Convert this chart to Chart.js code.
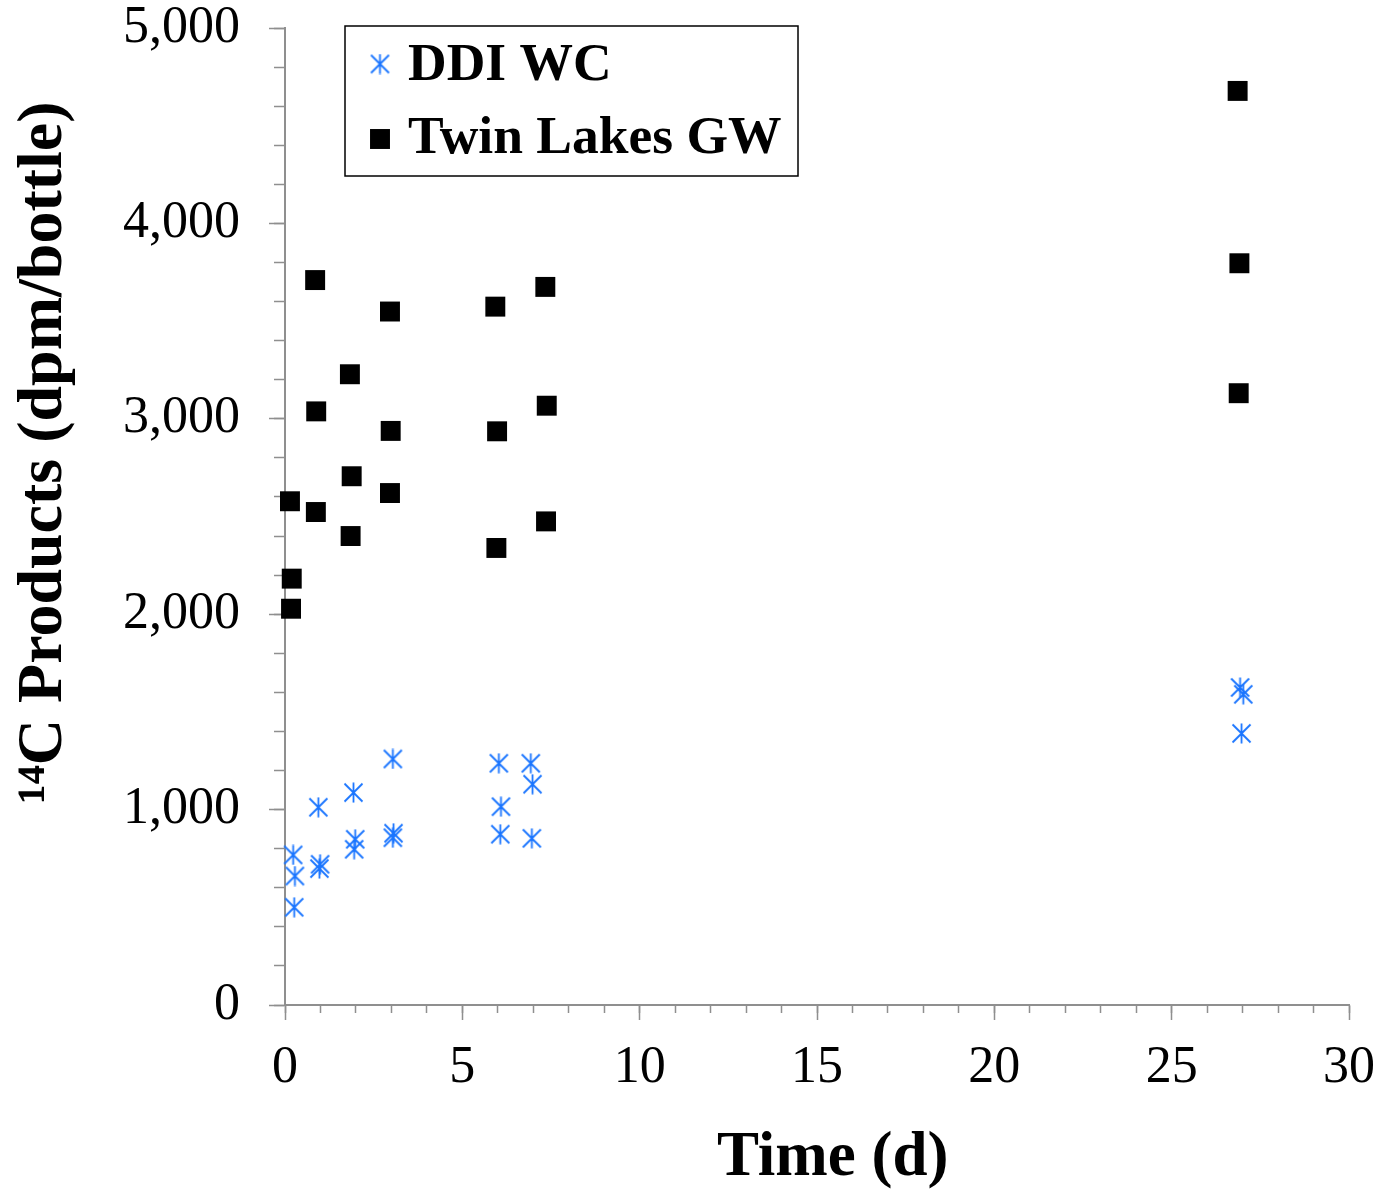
<!DOCTYPE html>
<html>
<head>
<meta charset="utf-8">
<script src="https://cdn.jsdelivr.net/npm/chart.js@4.4.1/dist/chart.umd.min.js"></script>
<style>
html, body { margin: 0; padding: 0; background: #ffffff; }
canvas { display: block; }
</style>
</head>
<body>
<canvas id="chart" width="1398" height="1191"></canvas>
<script>
// ---- data ----
const seriesNames = ['DDI WC', 'Twin Lakes GW'];

const ddiDays   = [0.23, 0.28, 0.26, 0.94, 0.99, 0.97, 1.93, 1.98, 1.95, 3.04, 3.06, 3.04, 6.03, 6.09, 6.07, 6.93, 6.98, 6.96, 26.93, 27.02, 26.97];
const ddiValues = [768, 660, 500, 1012, 720, 698, 1087, 848, 797, 1259, 879, 856, 1237, 1015, 874, 1237, 1130, 853, 1625, 1590, 1390];

const twinDays   = [0.85, 2.96, 5.93, 7.34, 1.83, 0.88, 2.98, 5.98, 7.38, 1.88, 2.96, 0.14, 0.87, 1.85, 5.96, 7.36, 0.19, 0.17, 26.86, 26.91, 26.89];
const twinValues = [3710, 3549, 3574, 3675, 3228, 3038, 2938, 2936, 3067, 2706, 2620, 2578, 2523, 2400, 2339, 2475, 2182, 2028, 4678, 3796, 3131];

const xMin = 0, xMax = 30, xMajorStep = 5, xMinorStep = 1;
const yMin = 0, yMax = 5000, yMajorStep = 1000, yMinorStep = 200;

const xTitle = '\u2002Time (d)';
const yTitle = '\u2003\u2003\u00B9\u2074C Products (dpm/bottle)';

// ---- styling ----
const FONT = '"Liberation Serif", "Times New Roman", Times, serif';
const AXIS_GRAY = '#8f8f8f';
const BLUE = '#1a75ff';

function makeAsterisk() {
  const s = 21;
  const c = document.createElement('canvas');
  c.width = s; c.height = s;
  const g = c.getContext('2d');
  g.strokeStyle = BLUE;
  g.lineWidth = 1.8;
  g.beginPath();
  g.moveTo(1.5, 1.5); g.lineTo(s - 1.5, s - 1.5);
  g.moveTo(s - 1.5, 1.5); g.lineTo(1.5, s - 1.5);
  g.moveTo(s / 2, 0.5); g.lineTo(s / 2, s - 0.5);
  g.stroke();
  return c;
}
const asterisk = makeAsterisk();

const toPoints = (xs, ys) => xs.map((x, i) => ({ x: x, y: ys[i] }));

const boxLegend = {
  id: 'boxLegend',
  afterDatasetsDraw(chart) {
    const ctx = chart.ctx;
    ctx.save();
    ctx.fillStyle = '#ffffff';
    ctx.fillRect(345, 26, 453, 150);
    ctx.lineWidth = 1.5;
    ctx.strokeStyle = '#000000';
    ctx.strokeRect(345, 26, 453, 150);
    chart.data.datasets.forEach((ds, i) => {
      const cy = 64 + i * 75;
      ctx.fillStyle = ds.pointBackgroundColor;
      ctx.strokeStyle = ds.pointBorderColor;
      Chart.helpers.drawPoint(ctx, {
        pointStyle: ds.pointStyle,
        radius: ds.pointRadius,
        borderWidth: ds.pointBorderWidth,
        rotation: 0
      }, 380, cy);
      ctx.fillStyle = '#000000';
      ctx.font = 'bold 53.5px ' + FONT;
      ctx.textAlign = 'left';
      ctx.textBaseline = 'alphabetic';
      ctx.fillText(ds.label, 408, 80 + i * 73);
    });
    ctx.restore();
  }
};

function noScalePadding(s) {
  s.paddingTop = 0; s.paddingBottom = 0; s.paddingLeft = 0; s.paddingRight = 0;
}

new Chart(document.getElementById('chart'), {
  type: 'scatter',
  data: {
    datasets: [
      {
        label: seriesNames[0],
        data: toPoints(ddiDays, ddiValues),
        pointStyle: asterisk,
        pointRadius: 10,
        pointBackgroundColor: BLUE,
        pointBorderColor: BLUE,
        pointBorderWidth: 0,
        showLine: false,
        clip: false
      },
      {
        label: seriesNames[1],
        data: toPoints(twinDays, twinValues),
        pointStyle: 'rect',
        pointRadius: 14.1,
        pointBackgroundColor: '#000000',
        pointBorderColor: '#000000',
        pointBorderWidth: 0,
        showLine: false,
        clip: false
      }
    ]
  },
  options: {
    responsive: false,
    animation: false,
    devicePixelRatio: 1,
    layout: { padding: { left: 0, top: 28, right: 49, bottom: 0 } },
    plugins: {
      legend: { display: false },
      tooltip: { enabled: false }
    },
    scales: {
      xMinor: {
        type: 'linear', position: 'bottom', weight: 0,
        min: xMin, max: xMax,
        afterFit: (s) => { s.height = 0; noScalePadding(s); },
        border: { display: false },
        grid: { drawOnChartArea: false, drawTicks: true, tickLength: 8, tickColor: AXIS_GRAY, tickWidth: 1.5 },
        ticks: { display: false, stepSize: xMinorStep, autoSkip: false }
      },
      x: {
        type: 'linear', position: 'bottom', weight: 1,
        min: xMin, max: xMax,
        afterFit: (s) => { s.height = 1191 - 1005; noScalePadding(s); },
        border: { display: true, color: AXIS_GRAY, width: 2 },
        grid: { drawOnChartArea: false, drawTicks: true, tickLength: 15, tickColor: AXIS_GRAY, tickWidth: 1.5 },
        ticks: {
          stepSize: xMajorStep, autoSkip: false, maxRotation: 0,
          padding: 22, color: '#000000',
          font: { family: FONT, size: 52, lineHeight: 1 },
          callback: (v) => String(v)
        },
        title: {
          display: true, text: xTitle, color: '#000000',
          font: { family: FONT, size: 63, weight: 'bold', lineHeight: 1 },
          padding: { top: 0, bottom: 1 }
        }
      },
      yMinor: {
        type: 'linear', position: 'left', weight: 0,
        min: yMin, max: yMax,
        afterFit: (s) => { s.width = 0; noScalePadding(s); },
        border: { display: false },
        grid: { drawOnChartArea: false, drawTicks: true, tickLength: 11, tickColor: AXIS_GRAY, tickWidth: 1.5 },
        ticks: { display: false, stepSize: yMinorStep, autoSkip: false }
      },
      y: {
        type: 'linear', position: 'left', weight: 1,
        min: yMin, max: yMax,
        afterFit: (s) => { s.width = 285; noScalePadding(s); },
        border: { display: true, color: AXIS_GRAY, width: 2 },
        grid: { drawOnChartArea: false, drawTicks: true, tickLength: 16, tickColor: AXIS_GRAY, tickWidth: 1.5 },
        ticks: {
          stepSize: yMajorStep, autoSkip: false,
          padding: 29, color: '#000000',
          font: { family: FONT, size: 52, lineHeight: 1 },
          callback: (v) => Number(v).toLocaleString('en-US')
        },
        title: {
          display: true, text: yTitle, color: '#000000',
          font: { family: FONT, size: 64, weight: 'bold', lineHeight: 1 },
          padding: { top: 12, bottom: 0 }
        }
      }
    }
  },
  plugins: [boxLegend]
});
</script>
</body>
</html>
